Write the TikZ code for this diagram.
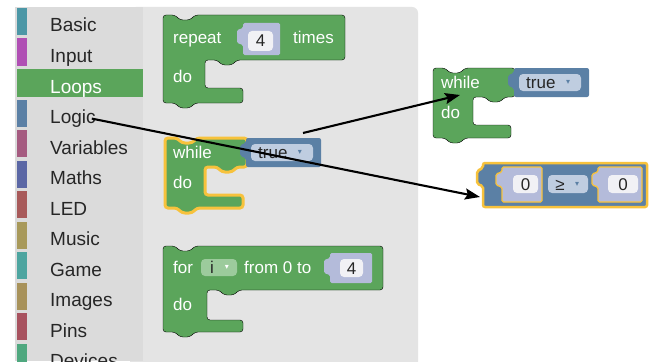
\documentclass[tikz,border=0pt]{standalone}
\usepackage{fontspec}
\setmainfont{Liberation Sans}
\newfontfamily\symfont{DejaVu Sans}
\usetikzlibrary{arrows.meta}
\definecolor{loopgreen}{HTML}{5BA55B}
\definecolor{logicblue}{HTML}{5B80A5}
\definecolor{selyellow}{HTML}{F7C23C}
\definecolor{slotlilac}{HTML}{B4BBDA}
\definecolor{fieldblue}{HTML}{BFCDE0}
\definecolor{fieldgreen}{HTML}{9CCB9C}
\definecolor{boxwhite}{HTML}{F1F1F5}
\definecolor{menugray}{HTML}{DBDBDB}
\definecolor{flyoutgray}{HTML}{E4E4E4}
\definecolor{menuink}{HTML}{262626}
\definecolor{cbasic}{HTML}{4C97A6}
\definecolor{cinput}{HTML}{B04FB4}
\definecolor{cvariables}{HTML}{A55B80}
\definecolor{cmaths}{HTML}{5B67A5}
\definecolor{cled}{HTML}{A85A5A}
\definecolor{cmusic}{HTML}{A8995A}
\definecolor{cgame}{HTML}{4DA5A0}
\definecolor{cimages}{HTML}{A8925A}
\definecolor{cpins}{HTML}{A8525F}
\definecolor{cdevices}{HTML}{4FA87F}
\begin{document}
\begin{tikzpicture}[x=1pt,y=-1pt,
    menutext/.style={anchor=base west,inner sep=0pt,font=\fontsize{19}{21}\selectfont,text=menuink},
    blocktext/.style={anchor=base west,inner sep=0pt,font=\fontsize{17}{19}\selectfont,text=white},
    fieldtext/.style={anchor=base,inner sep=0pt,font=\fontsize{17}{19}\selectfont,text=black!85},
    dropmark/.style={inner sep=0pt,font=\symfont\fontsize{8}{9}\selectfont},
    greenblock/.style={fill=loopgreen,rounded corners=3pt},
    blueblock/.style={fill=logicblue,rounded corners=2pt},
    slot/.style={fill=slotlilac,rounded corners=1.5pt},
    valuebox/.style={fill=boxwhite,rounded corners=4pt},
    pointer/.style={line width=2.1pt,-{Stealth[length=15pt,width=11pt,inset=2.5pt]}}]
  \useasboundingbox (0,0) rectangle (652,361);
  \clip (0,0) rectangle (652,361);
  \fill[white] (0,0) rectangle (652,361);
  % flyout and toolbox
  \fill[flyoutgray,rounded corners=6pt] (130,7) rectangle (418,380);
  \fill[menugray] (15,7) rectangle (143,361);
  \fill[cbasic] (17,8) rectangle (27,35);
  \fill[cinput] (17,38.5) rectangle (27,65.5);
  \fill[loopgreen] (17,69) rectangle (143,97);
  \fill[logicblue] (17,99.5) rectangle (27,126.5);
  \fill[cvariables] (17,130) rectangle (27,157);
  \fill[cmaths] (17,160.5) rectangle (27,187.5);
  \fill[cled] (17,191) rectangle (27,218);
  \fill[cmusic] (17,221.5) rectangle (27,248.5);
  \fill[cgame] (17,252) rectangle (27,279);
  \fill[cimages] (17,282.5) rectangle (27,309.5);
  \fill[cpins] (17,313) rectangle (27,340);
  \fill[cdevices] (17,343.5) rectangle (27,370.5);
  \node[menutext] (basic) at (50,32) {Basic};
  \node[menutext] (input) at (50,62.5) {Input};
  \node[menutext,text=white] (loops) at (50,93) {Loops};
  \node[menutext] (logic) at (50,123.5) {Logic};
  \node[menutext] (variables) at (50,154) {Variables};
  \node[menutext] (maths) at (50,184.5) {Maths};
  \node[menutext] (led) at (50,215) {LED};
  \node[menutext] (music) at (50,245.5) {Music};
  \node[menutext] (game) at (50,276) {Game};
  \node[menutext] (images) at (50,306.5) {Images};
  \node[menutext] (pins) at (50,337) {Pins};
  \node[menutext] (devices) at (50,367.5) {Devices};
  % repeat block
  \draw[greenblock] (163,15) -- (175,15) -- (180,20) -- (190,20) -- (195,15) -- (345,15) -- (345,60)
    -- (237,60) -- (232,65) -- (222,65) -- (217,60) -- (205,60) -- (205,88) -- (243,88) -- (243,103)
    -- (195,103) -- (190,108) -- (180,108) -- (175,103) -- (163,103) -- cycle;
  \fill[slot] (243,23) -- (280,23) -- (280,55) -- (243,55) -- (243,45) -- (237,43) -- (237,30) -- (243,28) -- cycle;
  \fill[valuebox] (248,31) rectangle (273,51);
  \node[blocktext] (repeat) at (173,44) {repeat};
  \node[fieldtext] (count) at (260.5,47) {4};
  \node[blocktext] (times) at (293,44) {times};
  \node[blocktext] (repdo) at (173,82) {do};
  % while block in the flyout
  \begin{scope}[shift={(165,138)}]
    \draw[greenblock,draw=selyellow,line width=3pt] (0,0) -- (12,0) -- (17,5) -- (27,5) -- (32,0) -- (82,0)
      -- (82,29) -- (72,29) -- (67,34) -- (57,34) -- (52,29) -- (40,29) -- (40,57) -- (78,57) -- (78,70)
      -- (32,70) -- (27,75) -- (17,75) -- (12,70) -- (0,70) -- cycle;
    \fill[blueblock] (81,0) -- (156,0) -- (156,29) -- (81,29) -- (81,20) -- (75,18) -- (75,7) -- (81,5) -- cycle;
    \fill[fieldblue,rounded corners=4pt] (86,6) rectangle (148,23);
    \node[blocktext] (fwhile) at (8,20) {while};
    \node[blocktext] (fdo) at (8,50) {do};
    \node[fieldtext,anchor=base west] (ftrue) at (93,20) {true};
    \node[dropmark,text=logicblue] (fdrop) at (135,14) {▾};
  \end{scope}
  % for block
  \draw[greenblock] (163,246) -- (175,246) -- (180,251) -- (190,251) -- (195,246) -- (383,246) -- (383,290)
    -- (239,290) -- (234,295) -- (224,295) -- (219,290) -- (207,290) -- (207,320) -- (243,320) -- (243,332)
    -- (195,332) -- (190,337) -- (180,337) -- (175,332) -- (163,332) -- cycle;
  \fill[fieldgreen,rounded corners=4pt] (201,259) rectangle (237,276);
  \fill[slot] (330,253) -- (372,253) -- (372,283) -- (330,283) -- (330,275) -- (324,273) -- (324,260) -- (330,258) -- cycle;
  \fill[valuebox] (340,259) rectangle (363,277);
  \node[blocktext] (for) at (173,273) {for};
  \node[fieldtext] (var) at (212,273) {i};
  \node[dropmark,text=white] (vardrop) at (227,267) {▾};
  \node[blocktext] (from) at (244,273) {from 0 to};
  \node[fieldtext] (upto) at (351.5,274) {4};
  \node[blocktext] (fordo) at (173,310) {do};
  % while block in the workspace
  \begin{scope}[shift={(433,68)}]
    \draw[greenblock] (0,0) -- (12,0) -- (17,5) -- (27,5) -- (32,0) -- (82,0)
      -- (82,29) -- (72,29) -- (67,34) -- (57,34) -- (52,29) -- (40,29) -- (40,57) -- (78,57) -- (78,70)
      -- (32,70) -- (27,75) -- (17,75) -- (12,70) -- (0,70) -- cycle;
    \fill[blueblock] (81,0) -- (156,0) -- (156,29) -- (81,29) -- (81,20) -- (75,18) -- (75,7) -- (81,5) -- cycle;
    \fill[fieldblue,rounded corners=4pt] (86,6) rectangle (148,23);
    \node[blocktext] (wwhile) at (8,20) {while};
    \node[blocktext] (wdo) at (8,50) {do};
    \node[fieldtext,anchor=base west] (wtrue) at (93,20) {true};
    \node[dropmark,text=logicblue] (wdrop) at (135,14) {▾};
  \end{scope}
  % compare block
  \draw[blueblock,draw=selyellow,line width=2.5pt] (483,163) -- (647,163) -- (647,207) -- (483,207)
    -- (483,186) -- (477,184) -- (477,171) -- (483,168) -- cycle;
  \draw[slot,draw=selyellow,line width=1.3pt] (502,167) -- (542,167) -- (542,202) -- (502,202) -- (502,187)
    -- (496,185) -- (496,174) -- (502,172) -- cycle;
  \draw[slot,draw=selyellow,line width=1.3pt] (598,167) -- (642,167) -- (642,202) -- (598,202) -- (598,187)
    -- (592,185) -- (592,174) -- (598,172) -- cycle;
  \fill[valuebox] (513,175) rectangle (538,193);
  \fill[fieldblue,rounded corners=4pt] (548,175) rectangle (588,193);
  \fill[valuebox] (608,175) rectangle (638,193);
  \node[fieldtext] (lhs) at (525.5,190) {0};
  \node[fieldtext] (op) at (560,190) {≥};
  \node[dropmark,text=logicblue] (opdrop) at (577,184) {▾};
  \node[fieldtext] (rhs) at (623,190) {0};
  % arrows
  \coordinate (cmpin) at (480,197);
  \coordinate (whilestart) at (303,133);
  \coordinate (whiletip) at (460,95);
  \draw[pointer] ([xshift=-4pt]logic.east) -- (cmpin);
  \draw[pointer] (whilestart) -- (whiletip);
\end{tikzpicture}
\end{document}
